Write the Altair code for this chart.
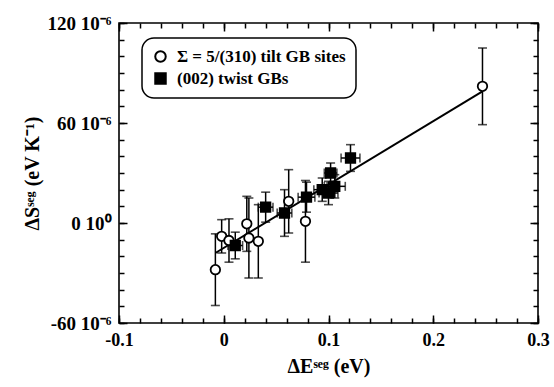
import altair as alt
import pandas as pd

# ---------------- data ----------------
series_names = ["Σ = 5/(310) tilt GB sites", "(002) twist GBs"]

circ_x = [-0.008, -0.002, 0.005, 0.022, 0.024, 0.033, 0.062, 0.078, 0.247]
circ_y = [-28, -8, -10.5, -0.5, -9, -11, 13, 1, 82]
circ_yerr = [21.5, 10, 13, 16.5, 24, 22, 19, 24.5, 23]

sq_x = [0.011, 0.040, 0.058, 0.079, 0.094, 0.100, 0.102, 0.106, 0.121]
sq_y = [-13.5, 9.5, 6, 15.5, 20, 18, 30, 22, 39]
sq_yerr = [8, 9, 14, 9, 7, 7, 6, 7, 8]
sq_xerr = [0.007, 0.007, 0.007, 0.008, 0.008, 0.009, 0.006, 0.010, 0.009]

fit_x = [-0.008, 0.247]
fit_y = [-18, 79]

x_major = [-0.1, 0, 0.1, 0.2, 0.3]
x_minor = [-0.1, -0.08, -0.06, -0.04, -0.02, 0, 0.02, 0.04, 0.06, 0.08, 0.1,
           0.12, 0.14, 0.16, 0.18, 0.2, 0.22, 0.24, 0.26, 0.28, 0.3]
y_major = [-60, 0, 60, 120]
y_minor = [-60, -50, -40, -30, -20, -10, 0, 10, 20, 30, 40, 50, 60,
           70, 80, 90, 100, 110, 120]

# ---------------- tables ----------------
circ = pd.DataFrame({"x": circ_x, "y": circ_y, "yerr": circ_yerr,
                     "xerr": [0.0] * len(circ_x), "series": series_names[0]})
sq = pd.DataFrame({"x": sq_x, "y": sq_y, "yerr": sq_yerr,
                   "xerr": sq_xerr, "series": series_names[1]})
pts = pd.concat([circ, sq], ignore_index=True)
pts["ylo"] = pts["y"] - pts["yerr"]
pts["yhi"] = pts["y"] + pts["yerr"]
pts["xlo"] = pts["x"] - pts["xerr"]
pts["xhi"] = pts["x"] + pts["xerr"]
sqd = pts[pts["series"] == series_names[1]]
fit = pd.DataFrame({"x": fit_x, "y": fit_y})

FONT = "Liberation Serif"
xs = alt.Scale(domain=[-0.1, 0.3], nice=False, zero=False)
ys = alt.Scale(domain=[-60, 120], nice=False, zero=False)

MAJ = 8
MIN = 5


def xaxis(orient, values, size, labels=False, title=None):
    kw = dict(orient=orient, values=values, tickSize=size, offset=-size,
              domain=False, grid=False, tickColor="black", tickWidth=1.5,
              labels=labels, title=title)
    if labels:
        kw.update(labelExpr="datum.value + ''", labelFont=FONT, labelFontSize=18,
                  labelFontWeight="bold", labelColor="black", labelPadding=8,
                  labelFlush=False, labelOverlap=False)
    if title:
        kw.update(titleFont=FONT, titleFontSize=20, titleFontWeight="bold",
                  titleColor="black", titlePadding=7)
    return alt.Axis(**kw)


def yaxis(orient, values, size, labels=False, title=None):
    kw = dict(orient=orient, values=values, tickSize=size, offset=-size,
              domain=False, grid=False, tickColor="black", tickWidth=1.5,
              labels=labels, title=title)
    if labels:
        kw.update(labelExpr="datum.value == 0 ? '0 10⁰' : datum.value + ' 10⁻⁶'",
                  labelFont=FONT, labelFontSize=19, labelFontWeight="bold",
                  labelColor="black", labelPadding=8, labelFlush=False,
                  labelOverlap=False)
    if title:
        kw.update(titleFont=FONT, titleFontSize=20, titleFontWeight="bold",
                  titleColor="black", titlePadding=5)
    return alt.Axis(**kw)


line = alt.Chart(fit).mark_line(color="black", strokeWidth=2).encode(
    x=alt.X("x:Q", scale=xs, axis=xaxis("bottom", x_major, MAJ, True, "ΔEˢᵉᵍ (eV)")),
    y=alt.Y("y:Q", scale=ys, axis=yaxis("left", y_major, MAJ, True, "ΔSˢᵉᵍ (eV K⁻¹)")),
)

vbars = alt.Chart(pts).mark_rule(color="black", strokeWidth=1.5).encode(
    x=alt.X("x:Q", scale=xs, axis=xaxis("bottom", x_minor, MIN)),
    y=alt.Y("ylo:Q", scale=ys, axis=yaxis("left", y_minor, MIN)),
    y2="yhi:Q",
)

capt = alt.Chart(pts).mark_tick(color="black", orient="horizontal", size=9,
                                thickness=1.6).encode(
    x=alt.X("x:Q", scale=xs, axis=xaxis("top", x_major, MAJ)),
    y=alt.Y("yhi:Q", scale=ys, axis=yaxis("right", y_major, MAJ)),
)

capb = alt.Chart(pts).mark_tick(color="black", orient="horizontal", size=9,
                                thickness=1.6).encode(
    x=alt.X("x:Q", scale=xs, axis=xaxis("top", x_minor, MIN)),
    y=alt.Y("ylo:Q", scale=ys, axis=yaxis("right", y_minor, MIN)),
)

hbars = alt.Chart(sqd).mark_rule(color="black", strokeWidth=1.5).encode(
    x=alt.X("xlo:Q", scale=xs, axis=None),
    x2="xhi:Q",
    y=alt.Y("y:Q", scale=ys, axis=None),
)

capl = alt.Chart(sqd).mark_tick(color="black", orient="vertical", size=9,
                                thickness=1.6).encode(
    x=alt.X("xlo:Q", scale=xs, axis=None),
    y=alt.Y("y:Q", scale=ys, axis=None),
)
capr = alt.Chart(sqd).mark_tick(color="black", orient="vertical", size=9,
                                thickness=1.6).encode(
    x=alt.X("xhi:Q", scale=xs, axis=None),
    y=alt.Y("y:Q", scale=ys, axis=None),
)

leg = dict(title=None, orient="none", legendX=23, legendY=15,
           strokeColor="black", cornerRadius=12,
           padding=10, labelFont=FONT, labelFontSize=17, labelFontWeight="bold",
           labelColor="black", labelLimit=400, symbolSize=110,
           symbolStrokeColor="black", symbolStrokeWidth=2, rowPadding=3,
           labelOffset=8, fillColor="white")

points = alt.Chart(pts).mark_point(filled=True, strokeWidth=1.8,
                                   size=90, opacity=1).encode(
    x=alt.X("x:Q", scale=xs, axis=None),
    y=alt.Y("y:Q", scale=ys, axis=None),
    shape=alt.Shape("series:N", sort=series_names,
                    scale=alt.Scale(domain=series_names, range=["circle", "square"]),
                    legend=alt.Legend(**leg)),
    fill=alt.Fill("series:N", sort=series_names,
                  scale=alt.Scale(domain=series_names, range=["white", "black"]),
                  legend=alt.Legend(**leg)),
    stroke=alt.Stroke("series:N", sort=series_names,
                      scale=alt.Scale(domain=series_names, range=["black", "black"]),
                      legend=alt.Legend(**leg)),
)

chart = alt.layer(line, vbars, capt, capb, hbars, capl, capr, points).resolve_axis(
    x="independent", y="independent"
).properties(
    width=419, height=300,
    autosize=alt.AutoSizeParams(type="none"),
    padding={"left": 119, "top": 23, "right": 16, "bottom": 64},
    background="white",
).configure_view(stroke="black", strokeWidth=1.6).configure_legend(strokeWidth=1.5)

chart.save("out.html", embed_options={"renderer": "svg", "actions": False})
